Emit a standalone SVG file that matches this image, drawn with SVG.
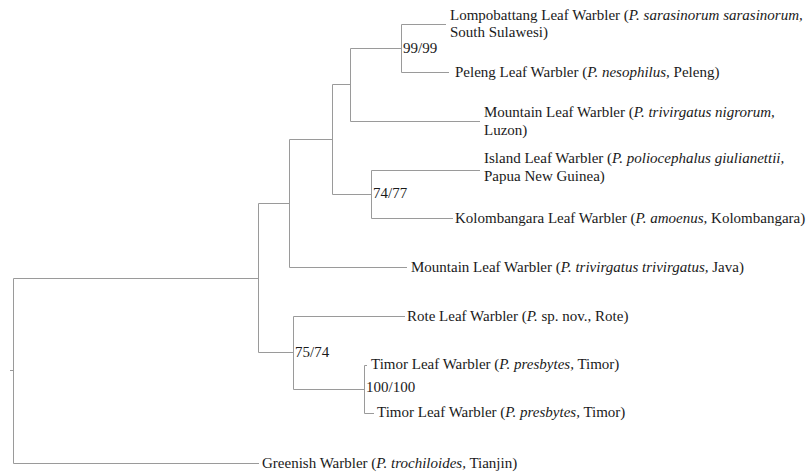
<svg xmlns="http://www.w3.org/2000/svg" width="811" height="473" viewBox="0 0 811 473">
<style>
.br{stroke:#9a9a9a;stroke-width:1;fill:none}
text{font-family:"Liberation Serif","Times New Roman",serif;font-size:15px;fill:#1a1a1a}
.i{font-style:italic}
</style>
<rect width="811" height="473" fill="#fff"/>
<g id="connectors">
<path class="br" d="M10,370.5H13.5M13.5,278.5V463.5M13.5,278.5H258.5M13.5,463.5H259"/>
<path class="br" d="M258.5,203.5V352.5M258.5,203.5H289.5M258.5,352.5H293.5"/>
<path class="br" d="M289.5,139.5V267.5M289.5,267.5H407M289.5,139.5H332.5"/>
<path class="br" d="M332.5,84.5V194.5M332.5,84.5H350.5M332.5,194.5H371.5"/>
<path class="br" d="M350.5,48.5V121.5M350.5,121.5H480M350.5,48.5H401.5"/>
<path class="br" d="M401.5,24.5V72.5M401.5,24.5H446M401.5,72.5H449"/>
<path class="br" d="M371.5,170.5V218.5M371.5,170.5H480M371.5,218.5H453"/>
<path class="br" d="M293.5,316.5V389.5M293.5,316.5H405M293.5,389.5H364.5"/>
<path class="br" d="M364.5,365.5V413.5M364.5,365.5H367M364.5,413.5H374"/>
</g>
<g id="n-lompobattang"><text x="450" y="20">Lompobattang Leaf Warbler (<tspan class="i">P. sarasinorum sarasinorum,</tspan></text><text x="450" y="37">South Sulawesi)</text></g>
<g id="n-peleng"><text x="455" y="77">Peleng Leaf Warbler (<tspan class="i">P. nesophilus,</tspan> Peleng)</text></g>
<g id="n-luzon"><text x="484" y="117">Mountain Leaf Warbler (<tspan class="i">P. trivirgatus nigrorum,</tspan></text><text x="484" y="135">Luzon)</text></g>
<g id="n-island"><text x="484" y="163">Island Leaf Warbler (<tspan class="i">P. poliocephalus giulianettii,</tspan></text><text x="484" y="181">Papua New Guinea)</text></g>
<g id="n-kolombangara"><text x="455" y="223">Kolombangara Leaf Warbler (<tspan class="i">P. amoenus,</tspan> Kolombangara)</text></g>
<g id="n-java"><text x="411" y="272">Mountain Leaf Warbler (<tspan class="i">P. trivirgatus trivirgatus,</tspan> Java)</text></g>
<g id="n-rote"><text x="407" y="321">Rote Leaf Warbler (<tspan class="i">P.</tspan> sp. nov., Rote)</text></g>
<g id="n-timor1"><text x="371" y="369">Timor Leaf Warbler (<tspan class="i">P. presbytes,</tspan> Timor)</text></g>
<g id="n-timor2"><text x="377" y="417">Timor Leaf Warbler (<tspan class="i">P. presbytes,</tspan> Timor)</text></g>
<g id="n-greenish"><text x="262" y="468">Greenish Warbler (<tspan class="i">P. trochiloides,</tspan> Tianjin)</text></g>
<g id="support">
<text x="403" y="53">99/99</text>
<text x="373" y="198">74/77</text>
<text x="295" y="357">75/74</text>
<text x="366" y="392">100/100</text>
</g>
</svg>
